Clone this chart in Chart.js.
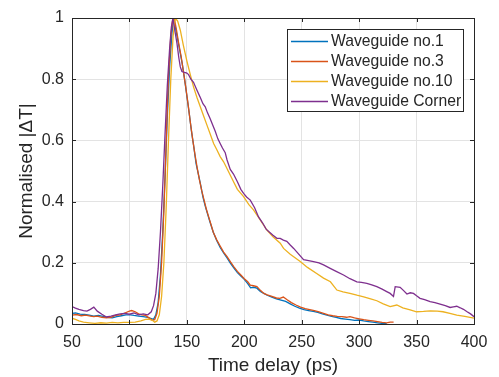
<!DOCTYPE html>
<html>
<head>
<meta charset="utf-8">
<script src="https://cdn.jsdelivr.net/npm/chart.js@4/dist/chart.umd.min.js"></script>
<style>
	body { margin: 0; background: #ffffff; }
	canvas { display: block; }
</style>
</head>
<body>
<canvas id="canvasDecay" width="499" height="377"></canvas>
<script>

var seriesNames = ["Waveguide no.1", "Waveguide no.3", "Waveguide no.10", "Waveguide Corner"];
var seriesColors = ["#0072BD", "#D95319", "#EDB120", "#7E2F8E"];

var xTicks = [50, 100, 150, 200, 250, 300, 350, 400];
var yTicks = [0, 0.2, 0.4, 0.6, 0.8, 1];

// Waveguide no.1
var timeWg1 = [50,53,57,61,65,69,73,77,81,85,89,93,97,101,104,108,112,116,119,121,123,125,127,129,131,133,135,137,138.4,140,142,144,146,148,150,152,154,156,158,160,162,164,166,168,170,173,176,179,182,185,188,191,194,197,200,203,205.5,208,211,214,217,220,224,228,232,236,240,244,248,252,256,260,264,268,272,276,280,284,288,292,296,300,304,308,312,316,320,324];
var valWg1 = [0.035,0.036,0.032,0.031,0.029,0.026,0.028,0.025,0.022,0.02,0.024,0.027,0.03,0.03,0.028,0.026,0.024,0.022,0.018,0.015,0.03,0.07,0.16,0.3,0.48,0.68,0.84,0.95,1.0,0.97,0.93,0.89,0.85,0.8,0.745,0.69,0.63,0.58,0.525,0.49,0.455,0.415,0.385,0.36,0.335,0.3,0.273,0.25,0.232,0.216,0.198,0.183,0.168,0.157,0.146,0.132,0.118,0.12,0.117,0.106,0.1,0.094,0.088,0.082,0.078,0.074,0.066,0.058,0.052,0.047,0.044,0.041,0.038,0.033,0.029,0.025,0.022,0.018,0.016,0.014,0.012,0.013,0.01,0.008,0.006,0.004,0.002,0.001];

// Waveguide no.3
var timeWg3 = [50,54,58,62,66,69,72,76,80,84,88,92,96,100,102,105,108,111,114,117,120,122,124,126,128,130,131.2,132.5,134,136,137.5,139,141,143,145,147,149,151,153,155,157,159,161,163,165,167,169,171,173,176,179,182,185,188,191,194,197,200,203,205.2,208,211,214,217,220,224,228,231,234,237,241,245,249,253,257,261,265,269,273,277,281,285,289,292,296,300,304,308,312,316,320,324,327,330];
var valWg3 = [0.029,0.031,0.027,0.029,0.026,0.024,0.026,0.022,0.02,0.022,0.028,0.03,0.036,0.042,0.044,0.04,0.033,0.03,0.028,0.02,0.012,0.014,0.035,0.09,0.2,0.37,0.5,0.65,0.81,0.94,0.99,1.0,0.96,0.915,0.875,0.825,0.775,0.72,0.66,0.605,0.555,0.51,0.47,0.435,0.405,0.375,0.35,0.325,0.3,0.275,0.255,0.235,0.22,0.203,0.187,0.172,0.16,0.148,0.138,0.127,0.125,0.122,0.11,0.1,0.095,0.09,0.085,0.084,0.088,0.08,0.07,0.062,0.055,0.05,0.047,0.044,0.04,0.035,0.03,0.027,0.025,0.024,0.022,0.024,0.02,0.017,0.014,0.012,0.01,0.008,0.005,0.004,0.006,0.006];

// Waveguide no.10
var timeWg10 = [50,53,56,60,65,70,75,80,85,90,95,100,105,110,114,117,120,122,124,126,128,130,132,134,136,138,139.9,142,144.3,147,150,153,155.8,158.8,161.7,164.6,167.5,170.4,173.3,176,179,182,186,190,194,199.4,204,208,213,219.7,225,231.3,234.2,240,248.7,255,263,269,275,280.6,286,292,298,304,310,315.4,321,327,332.8,338,344.4,350,356,362,368,373,379,385,392,400];
var valWg10 = [0.019,0.015,0.01,0.006,0.004,0.002,0.004,0.003,0.005,0.004,0.005,0.005,0.006,0.01,0.015,0.016,0.012,0.006,0.01,0.03,0.09,0.2,0.38,0.6,0.8,0.94,1.0,0.99,0.96,0.91,0.86,0.815,0.775,0.74,0.71,0.68,0.65,0.62,0.59,0.57,0.547,0.53,0.5,0.47,0.44,0.416,0.39,0.373,0.345,0.307,0.285,0.264,0.247,0.228,0.204,0.185,0.165,0.15,0.138,0.111,0.105,0.1,0.094,0.089,0.082,0.076,0.066,0.057,0.062,0.053,0.046,0.04,0.041,0.043,0.042,0.04,0.035,0.029,0.025,0.019];

// Waveguide Corner
var timeCorner = [50,53,56,60,63,66,69,72,76,80,84,88,92,96,100,104,108,112,116,119,121,123,125,127,129,131,133,135,136.5,137.9,139.5,141.4,143,144.3,145.7,148,150,151.5,153.5,155.8,158.7,161.7,164,166,168,170.4,172.5,174.7,177,179,181,183.4,185,187.8,190.6,194,197,199.4,202,205.2,209,212.4,216,219,222,225,228.4,231.3,234,237,240,243,247,251.6,256,260.3,265,269,274.8,280,286.4,292,298,302,306.7,311,315.4,320,324,327,329.9,331.4,335.7,338.5,341.6,344.5,347.3,350,353,357,361.8,366,370.5,375,379.2,382,385,388,390.8,394,397,400];
var valCorner = [0.057,0.052,0.048,0.044,0.042,0.048,0.055,0.042,0.032,0.023,0.026,0.03,0.033,0.035,0.032,0.036,0.03,0.033,0.03,0.04,0.06,0.1,0.18,0.3,0.45,0.62,0.78,0.9,0.97,1.0,0.96,0.917,0.87,0.84,0.825,0.822,0.82,0.815,0.8,0.79,0.765,0.74,0.72,0.71,0.69,0.67,0.65,0.63,0.605,0.59,0.575,0.56,0.536,0.505,0.49,0.465,0.44,0.427,0.415,0.405,0.38,0.35,0.33,0.31,0.3,0.29,0.28,0.28,0.274,0.27,0.258,0.247,0.23,0.21,0.207,0.204,0.2,0.193,0.182,0.172,0.16,0.148,0.138,0.136,0.133,0.128,0.122,0.114,0.106,0.1,0.09,0.122,0.12,0.11,0.098,0.102,0.1,0.092,0.084,0.08,0.073,0.07,0.065,0.06,0.054,0.056,0.058,0.053,0.048,0.04,0.033,0.024];

var textColor = "#262626";
var fontFamily = "'Liberation Sans', Arial, Helvetica, sans-serif";

function make_points(times, values){
	var pts = [];
	for (var i = 0; i < times.length; i++){
		pts.push({ x: times[i], y: values[i] });
	}
	return pts;
}

// box round the axes + small inward ticks, like matlab
var axesBoxPlugin = {
	id: 'axesBox',
	afterDatasetsDraw: function(chart){
		var ctx = chart.ctx;
		var a = chart.chartArea;
		var xs = chart.scales.x;
		var ys = chart.scales.y;
		var tl = 4;
		ctx.save();
		ctx.strokeStyle = textColor;
		ctx.lineWidth = 1;
		ctx.beginPath();
		xTicks.forEach(function(v){
			var px = Math.round(xs.getPixelForValue(v)) + 0.5;
			ctx.moveTo(px, a.bottom); ctx.lineTo(px, a.bottom - tl);
			ctx.moveTo(px, a.top); ctx.lineTo(px, a.top + tl);
		});
		yTicks.forEach(function(v){
			var py = Math.round(ys.getPixelForValue(v)) + 0.5;
			ctx.moveTo(a.left, py); ctx.lineTo(a.left + tl, py);
			ctx.moveTo(a.right, py); ctx.lineTo(a.right - tl, py);
		});
		ctx.stroke();
		ctx.strokeRect(Math.round(a.left) + 0.5, Math.round(a.top) + 0.5, Math.round(a.right - a.left), Math.round(a.bottom - a.top));
		ctx.restore();
	}
};

// legend inside the axes, top right
var boxLegendPlugin = {
	id: 'boxLegend',
	afterDraw: function(chart){
		var ctx = chart.ctx;
		var bx = 287.5, by = 29.5, bw = 176, bh = 82;
		ctx.save();
		ctx.fillStyle = "#ffffff";
		ctx.fillRect(bx, by, bw, bh);
		ctx.strokeStyle = textColor;
		ctx.lineWidth = 1;
		ctx.strokeRect(bx, by, bw, bh);
		ctx.font = "15.7px " + fontFamily;
		ctx.textBaseline = "middle";
		ctx.textAlign = "left";
		for (var i = 0; i < seriesNames.length; i++){
			var ly = 41 + i * 20;
			ctx.strokeStyle = seriesColors[i];
			ctx.lineWidth = 1.3;
			ctx.beginPath();
			ctx.moveTo(291, ly + 0.5);
			ctx.lineTo(328, ly + 0.5);
			ctx.stroke();
			ctx.fillStyle = textColor;
			ctx.fillText(seriesNames[i], 331, ly + 1);
		}
		ctx.restore();
	}
};

function init_chart_decay(){

	if( typeof (Chart) === 'undefined'){ return; }

	var allTimes = [timeWg1, timeWg3, timeWg10, timeCorner];
	var allVals = [valWg1, valWg3, valWg10, valCorner];
	var datasets = [];
	for (var i = 0; i < seriesNames.length; i++){
		datasets.push({
			label: seriesNames[i],
			data: make_points(allTimes[i], allVals[i]),
			borderColor: seriesColors[i],
			backgroundColor: seriesColors[i],
			borderWidth: 1.3,
			pointRadius: 0,
			tension: 0,
			fill: false,
			order: seriesNames.length - i
		});
	}

	var chart_settings = {
		type: 'line',
		data: { datasets: datasets },
		options: {
			responsive: false,
			animation: false,
			layout: { padding: { top: 18, right: 25, left: 0, bottom: 0 } },
			plugins: {
				legend: { display: false },
				tooltip: { enabled: false }
			},
			scales: {
				x: {
					type: 'linear',
					min: 50,
					max: 400,
					afterFit: function(scale){ scale.height = 53; },
					afterBuildTicks: function(scale){ scale.ticks = xTicks.map(function(v){ return { value: v }; }); },
					ticks: { color: textColor, font: { family: fontFamily, size: 16 }, padding: 9, maxRotation: 0,
						callback: function(value){ return String(value); } },
					grid: { color: "#e3e3e3", drawTicks: false },
					border: { display: false },
					title: {
						display: true,
						text: "Time delay (ps)",
						color: textColor,
						font: { family: fontFamily, size: 19, lineHeight: 1.2 },
						padding: { top: 0, bottom: 0 }
					}
				},
				y: {
					min: 0,
					max: 1,
					afterFit: function(scale){ scale.width = 72; },
					afterBuildTicks: function(scale){ scale.ticks = yTicks.map(function(v){ return { value: v }; }); },
					ticks: { color: textColor, font: { family: fontFamily, size: 16 }, padding: 8,
						callback: function(value){ return String(value); } },
					grid: { color: "#e3e3e3", drawTicks: false },
					border: { display: false },
					title: {
						display: true,
						text: "Normalised |ΔT|",
						color: textColor,
						font: { family: fontFamily, size: 19, lineHeight: 1.2 },
						padding: { top: 15, bottom: 0 }
					}
				}
			}
		},
		plugins: [axesBoxPlugin, boxLegendPlugin]
	};

	var chart_decay = new Chart(document.getElementById('canvasDecay'), chart_settings);
}

init_chart_decay();

</script>
</body>
</html>
